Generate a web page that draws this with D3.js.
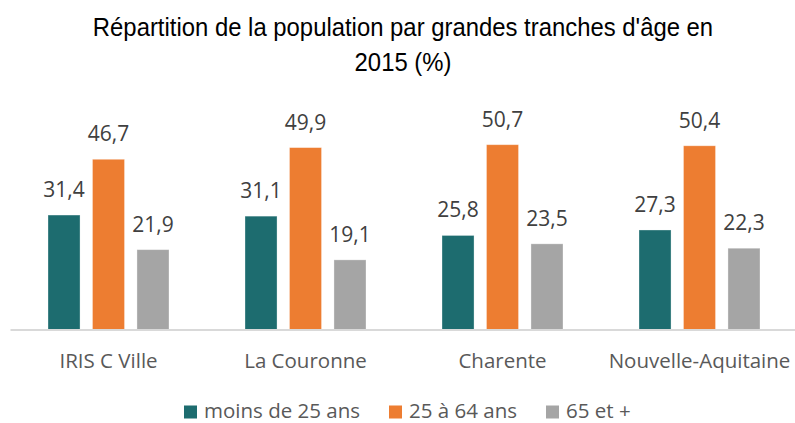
<!DOCTYPE html>
<html>
<head>
<meta charset="utf-8">
<script src="https://cdn.jsdelivr.net/npm/d3@7"></script>
<style>
  body { margin: 0; background: #fff; }
  svg { display: block; }
</style>
</head>
<body>
<div id="chart"></div>
<script>
// data
var categories = ["IRIS C Ville", "La Couronne", "Charente", "Nouvelle-Aquitaine"];
var seriesNames = ["moins de 25 ans", "25 à 64 ans", "65 et +"];
var under25 = [31.4, 31.1, 25.8, 27.3];
var from25to64 = [46.7, 49.9, 50.7, 50.4];
var over65 = [21.9, 19.1, 23.5, 22.3];
var colors = ["#1d6c6f", "#ed7d31", "#a5a5a5"];

var W = 795, H = 423;

var svg = d3.select("#chart").append("svg")
    .attr("width", W)
    .attr("height", H);

// title (narrow look: squeeze horizontally)
var title = svg.append("g")
    .attr("transform", "translate(403,0) scale(0.955,1)")
    .append("text")
    .attr("text-anchor", "middle")
    .style("font-family", "'Liberation Sans Narrow', 'Arial Narrow', 'Liberation Sans', sans-serif")
    .style("font-size", "25px")
    .style("fill", "#000");
title.append("tspan").attr("x", 0).attr("y", 36.5)
    .text("Répartition de la population par grandes tranches d'âge en");
title.append("tspan").attr("x", 0).attr("y", 71.5)
    .text("2015 (%)");

// scales
var x0 = d3.scaleBand().domain(categories).range([10, 798]);
var x1 = d3.scaleBand().domain(seriesNames).range([0, 121]).paddingInner(0.28);
var y = d3.scaleLinear().domain([0, 60]).range([329.5, 110.8]);

var rows = categories.map(function(c, i) {
  return {cat: c, vals: [under25[i], from25to64[i], over65[i]]};
});

var groups = svg.selectAll("g.grp")
    .data(rows)
    .enter().append("g")
    .attr("class", "grp")
    .attr("transform", function(d) {
      return "translate(" + (x0(d.cat) + x0.bandwidth() / 2 - 60.5) + ",0)";
    });

groups.selectAll("rect")
    .data(function(d) { return d.vals.map(function(v, k) { return {name: seriesNames[k], v: v, k: k}; }); })
    .enter().append("rect")
    .attr("x", function(d) { return x1(d.name); })
    .attr("width", x1.bandwidth())
    .attr("y", function(d) { return y(d.v); })
    .attr("height", function(d) { return y(0) - y(d.v); })
    .style("fill", function(d) { return colors[d.k]; })
    .style("stroke", "#fff")
    .style("stroke-opacity", 0.4)
    .style("stroke-width", 0.8);

groups.selectAll("text.lbl")
    .data(function(d) { return d.vals.map(function(v, k) { return {name: seriesNames[k], v: v}; }); })
    .enter().append("text")
    .attr("class", "lbl")
    .attr("x", function(d) { return x1(d.name) + x1.bandwidth() / 2; })
    .attr("y", function(d) { return y(d.v) - 18; })
    .attr("text-anchor", "middle")
    .style("font-family", "'Open Sans', sans-serif")
    .style("font-size", "21px")
    .style("fill", "#404040")
    .text(function(d) { return d3.format(".1f")(d.v).replace(".", ","); });

// x axis
var xAxis = svg.append("g")
    .attr("transform", "translate(0," + y(0) + ")")
    .call(d3.axisBottom(x0).tickSize(0).tickPadding(38.5));
xAxis.select(".domain").attr("stroke", "#d9d9d9").attr("stroke-width", 2);
xAxis.selectAll("text")
    .style("font-family", "'Open Sans', sans-serif")
    .style("font-size", "20.5px")
    .style("fill", "#595959")
    .attr("dy", "0");

// legend (kept just inside the bottom edge)
var legendX = [184, 389, 546];
var legend = svg.selectAll("g.leg")
    .data(seriesNames)
    .enter().append("g")
    .attr("class", "leg")
    .attr("transform", function(d, i) { return "translate(" + legendX[i] + ",0)"; });
legend.append("rect")
    .attr("x", 0).attr("y", 405.5)
    .attr("width", 13).attr("height", 13)
    .style("fill", function(d, i) { return colors[i]; });
legend.append("text")
    .attr("x", 20).attr("y", 417.5)
    .style("font-family", "'Open Sans', sans-serif")
    .style("font-size", "20.5px")
    .style("fill", "#595959")
    .text(function(d) { return d; });
</script>
</body>
</html>
